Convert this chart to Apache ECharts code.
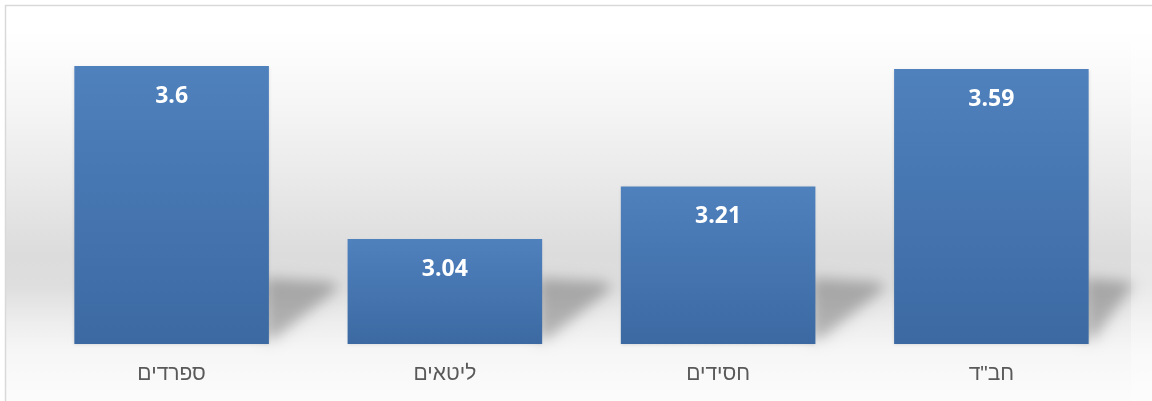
<!DOCTYPE html>
<html>
<head>
<meta charset="utf-8">
<script src="https://cdn.jsdelivr.net/npm/echarts@6/dist/echarts.min.js"></script>
<style>
html,body{margin:0;padding:0;background:#fff;}
#chart{width:1152px;height:401px;}
</style>
</head>
<body>
<div id="chart"></div>
<script>
// Data (right-to-left chart: first category is drawn at the right)
var categories = ['חב"ד', 'חסידים', 'ליטאים', 'ספרדים'];
var values = [3.59, 3.21, 3.04, 3.6];
var axisMin = 2.7;
var axisMax = 3.7;

var chart = echarts.init(document.getElementById('chart'), null, {renderer: 'canvas'});
var barRatio = 0.712;
var SHIFT = 1500;

var option = {
  animation: false,
  backgroundColor: '#ffffff',
  graphic: [
    {
      type: 'rect', z: -10, silent: true,
      shape: {x: 6, y: 6, width: 1146, height: 400},
      style: {
        fill: new echarts.graphic.LinearGradient(0, 0, 0, 1, [
          {offset: 0.0, color: '#ffffff'},
          {offset: 0.06, color: '#ffffff'},
          {offset: 0.24, color: '#f6f6f6'},
          {offset: 0.44, color: '#e9e9e9'},
          {offset: 0.62, color: '#dcdcdc'},
          {offset: 0.70, color: '#dedede'},
          {offset: 0.79, color: '#ededed'},
          {offset: 0.86, color: '#f6f6f6'},
          {offset: 0.95, color: '#fafafa'},
          {offset: 1.0, color: '#fcfcfc'}
        ])
      }
    },
    {
      type: 'rect', z: -9, silent: true,
      shape: {x: 1131, y: 6, width: 30, height: 400},
      style: {fill: 'rgba(255,255,255,0.35)'}
    },
    {
      type: 'rect', z: 100, silent: true,
      shape: {x: 5.5, y: 5.5, width: 1200, height: 500},
      style: {fill: 'none', stroke: '#d9d9d9', lineWidth: 1.5}
    }
  ],
  grid: {left: 35, right: 24, top: 35, bottom: 57},
  xAxis: {
    type: 'category',
    data: categories,
    inverse: true,
    axisLine: {show: false},
    axisTick: {show: false},
    axisLabel: {
      color: '#595959',
      fontFamily: 'Liberation Sans',
      fontSize: 21,
      margin: 20
    }
  },
  yAxis: {
    type: 'value',
    min: axisMin,
    max: axisMax,
    show: false,
    splitLine: {show: false}
  },
  series: [
    {
      type: 'custom',
      z: 1,
      clip: false,
      silent: true,
      data: categories.map(function (c, i) { return [i, axisMin]; }),
      renderItem: function (params, api) {
        var base = api.coord([api.value(0), axisMin]);
        var band = api.size([1, 0])[0];
        var r = base[0] + band * barRatio / 2;
        var b = base[1];
        var rightLimit = params.coordSys.x + params.coordSys.width + 3;
        var maxX = Math.min(r + 70, rightLimit);
        var pts = [[r - 4, b - 66], [Math.min(r + 62, maxX), b - 62], [maxX, b - 56], [r + 6, b - 6], [r - 4, b - 4]];
        pts = pts.map(function (p) { return [p[0] - SHIFT, p[1]]; });
        return {
          type: 'polygon',
          shape: {points: pts},
          style: {
            fill: '#000',
            shadowBlur: 14,
            shadowOffsetX: SHIFT,
            shadowColor: 'rgba(0,0,0,0.26)'
          }
        };
      }
    },
    {
      type: 'bar',
      z: 2,
      data: values,
      barCategoryGap: '28.8%',
      itemStyle: {
        color: new echarts.graphic.LinearGradient(0, 0, 0, 1, [
          {offset: 0, color: '#4f81bd'},
          {offset: 1, color: '#3c69a2'}
        ]),
        shadowColor: 'rgba(0,0,0,0.12)',
        shadowBlur: 3,
        shadowOffsetY: 1
      },
      label: {
        show: true,
        position: 'insideTop',
        distance: 19,
        color: '#ffffff',
        fontFamily: 'Open Sans',
        fontWeight: 'bold',
        fontSize: 23
      }
    }
  ]
};
chart.setOption(option);
</script>
</body>
</html>
